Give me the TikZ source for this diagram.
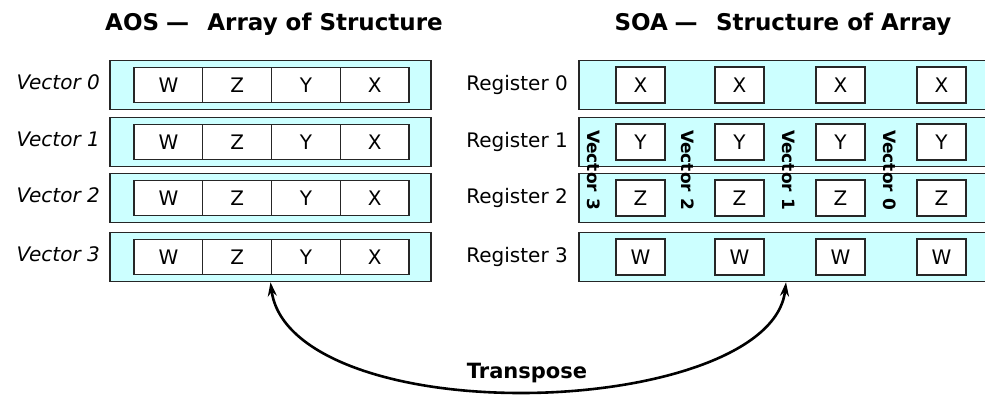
\documentclass[tikz,border=0pt]{standalone}
\usepackage{fontspec}
\setmainfont{DejaVu Sans}
\usetikzlibrary{arrows.meta}
\definecolor{cellbg}{HTML}{CCFFFF}

\begin{document}
\begin{tikzpicture}[x=1pt, y=-1pt,
    row/.style={draw=black!85, line width=1.5pt, fill=cellbg,
                minimum height=49pt, inner sep=0pt},
    cell/.style={draw=black!85, line width=1.3pt, fill=white, inner sep=0pt,
                 minimum width=68.75pt, minimum height=35pt,
                 font=\fontsize{20}{24}\selectfont},
    elem/.style={cell, minimum width=49pt, minimum height=36pt},
    lbl/.style={anchor=base east, inner sep=0pt, font=\fontsize{20}{24}\selectfont},
    title/.style={anchor=base, inner sep=0pt, font=\fontsize{23}{27}\selectfont\bfseries},
    vlbl/.style={rotate=-90, inner sep=0pt, font=\fontsize{17}{20}\selectfont\bfseries},
    arr/.style={{Stealth[length=14pt,width=9pt]}-{Stealth[length=14pt,width=9pt]},
                line width=2.6pt}
  ]
  \useasboundingbox (0,0) rectangle (985,394);

  \node[title] (aos) at (274,30) {AOS\hspace{0.3em}—\hspace{0.8em}Array of Structure};
  \node[title] (soa) at (783,30) {SOA\hspace{0.3em}—\hspace{0.8em}Structure of Array};

  % AOS: one vector per row
  \foreach \r/\y in {0/85,1/142,2/198,3/257} {
    \node[row, minimum width=321pt] (vec\r) at (270.5,\y) {};
    \node[lbl] (vlab\r) at (100,\y+4) {\itshape Vector \r};
    \foreach \l [count=\c from 0] in {W,Z,Y,X}
      \node[cell] (v\r\l) at (168.4+68.75*\c,\y) {\l};
  }

  % SOA: one component per register
  \foreach \r/\y/\l in {0/85/X,1/142/Y,2/198/Z,3/257/W} {
    \node[row, minimum width=414pt] (reg\r) at (786,\y) {};
    \node[lbl] (rlab\r) at (568,\y+5) {Register \r};
    \foreach \x [count=\c from 0] in {640.5,739.5,840.5,941.5}
      \node[elem] (r\r e\c) at (\x,\y) {\l};
  }

  \foreach \v/\x in {3/594,2/688,1/789,0/890}
    \node[vlbl] (col\v) at (\x,170) {Vector \v};

  \coordinate (low) at (521,393);
  \draw[arr] (vec3.south) .. controls (280,355) and (390,393) .. (low)
    .. controls (650,393) and (778,355) .. (reg3.south);
  \node[title, font=\fontsize{21}{25}\selectfont\bfseries] (trans) at (527,378) {Transpose};
\end{tikzpicture}
\end{document}
